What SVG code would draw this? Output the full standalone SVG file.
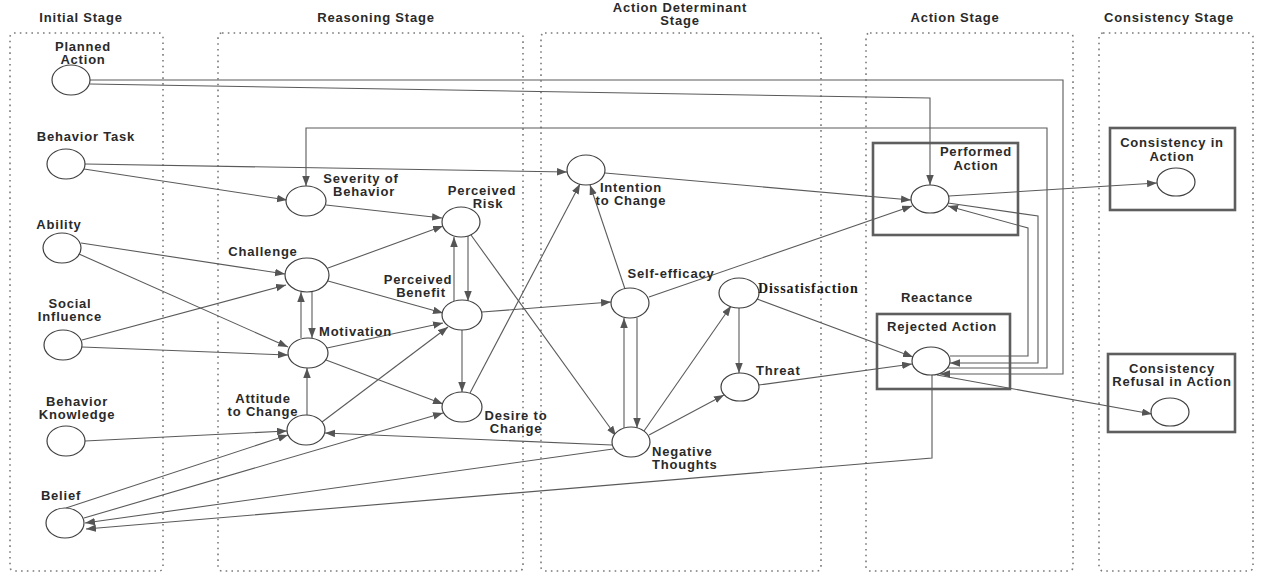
<svg xmlns="http://www.w3.org/2000/svg" width="1261" height="575" viewBox="0 0 1261 575">
<defs>
<marker id="ah" markerUnits="userSpaceOnUse" markerWidth="11" markerHeight="8" refX="10" refY="3.75" orient="auto">
<path d="M0,0 L10,3.75 L0,7.5 z" fill="#555"/>
</marker>
<style>
.stage{fill:none;stroke:#7a7a7a;stroke-width:1.6;stroke-dasharray:1.6 4.2}
.box{fill:none;stroke:#5e5e5e;stroke-width:2.6}
.nd{fill:#fff;stroke:#404040;stroke-width:1.2}
.t{font-family:"Liberation Sans",Arial,sans-serif;font-weight:bold;font-size:13px;fill:#2a2a2a;letter-spacing:0.8px}
.c{text-anchor:middle}
.s{font-family:"Liberation Serif","Times New Roman",serif;font-weight:bold;font-size:14px;fill:#1a1a1a;letter-spacing:0.9px}
.e{fill:none;stroke:#5a5a5a;stroke-width:1.1;marker-end:url(#ah)}
</style>
</defs>
<rect width="1261" height="575" fill="#fff"/>

<g id="stages">
<rect class="stage" x="10" y="33" width="153" height="538" rx="4"/>
<rect class="stage" x="218" y="33" width="305" height="538" rx="4"/>
<rect class="stage" x="541" y="33" width="280" height="538" rx="4"/>
<rect class="stage" x="866" y="33" width="207" height="538" rx="4"/>
<rect class="stage" x="1099" y="33" width="154" height="538" rx="4"/>
<text class="t c" x="81" y="22">Initial Stage</text>
<text class="t c" x="376" y="22">Reasoning Stage</text>
<text class="t c" x="680" y="12">Action Determinant</text>
<text class="t c" x="680" y="25">Stage</text>
<text class="t c" x="955" y="22">Action Stage</text>
<text class="t c" x="1169" y="22">Consistency Stage</text>
</g>

<g id="boxes">
<rect class="box" x="873" y="143" width="145" height="92"/>
<rect class="box" x="877" y="314" width="133" height="75"/>
<rect class="box" x="1110" y="128" width="125" height="82"/>
<rect class="box" x="1108" y="354" width="127" height="78"/>
<text class="t c" x="937" y="302">Reactance</text>
</g>

<g id="connectors">
<path class="e" d="M90,80 H1063 V374 H940"/>
<path class="e" d="M90,84 L930,98 V185"/>
<path class="e" d="M948,368 H1047 V128 H306 V186"/>
<path class="e" d="M948,203 L1038,216 V363 H950"/>
<path class="e" d="M950,356 H1028 V228 L948,206"/>
<path class="e" d="M85,164 L567,172"/>
<path class="e" d="M84,169 L287,200"/>
<path class="e" d="M326,205 L442,218"/>
<path class="e" d="M81,243 L285,274"/>
<path class="e" d="M79,254 L288,347"/>
<path class="e" d="M82,340 L286,285"/>
<path class="e" d="M82,347 L288,355"/>
<path class="e" d="M85,441 L287,431"/>
<path class="e" d="M66,508 L288,435"/>
<path class="e" d="M301,338 V292"/>
<path class="e" d="M312,291 V338"/>
<path class="e" d="M307,415 V368"/>
<path class="e" d="M328,268 L443,226"/>
<path class="e" d="M328,281 L443,313"/>
<path class="e" d="M327,348 L443,323"/>
<path class="e" d="M326,360 L443,404"/>
<path class="e" d="M322,422 L448,327"/>
<path class="e" d="M84,518 L443,413"/>
<path class="e" d="M612,445 L325,433"/>
<path class="e" d="M613,449 L85,523"/>
<path class="e" d="M932,375 V458 L86,529"/>
<path class="e" d="M454,301 V237"/>
<path class="e" d="M468,236 V301"/>
<path class="e" d="M462,330 V392"/>
<path class="e" d="M471,235 L616,436"/>
<path class="e" d="M470,393 L580,184"/>
<path class="e" d="M482,312 L611,302"/>
<path class="e" d="M625,289 L590,185"/>
<path class="e" d="M605,173 L911,200"/>
<path class="e" d="M649,297 L912,206"/>
<path class="e" d="M624,428 V318"/>
<path class="e" d="M637,318 V428"/>
<path class="e" d="M644,431 L731,306"/>
<path class="e" d="M649,435 L724,395"/>
<path class="e" d="M739,308 V373"/>
<path class="e" d="M757,299 L913,357"/>
<path class="e" d="M759,385 L912,364"/>
<path class="e" d="M949,196 L1157,183"/>
<path class="e" d="M937,375 L1152,414"/>
</g>

<g id="n-planned-action"><ellipse class="nd" cx="71" cy="80" rx="19" ry="15"/><text class="t c" x="83" y="51">Planned</text><text class="t c" x="83" y="64">Action</text></g>
<g id="n-behavior-task"><ellipse class="nd" cx="66" cy="164" rx="19" ry="15"/><text class="t c" x="86" y="141">Behavior Task</text></g>
<g id="n-ability"><ellipse class="nd" cx="62" cy="248" rx="19" ry="15"/><text class="t c" x="59" y="229">Ability</text></g>
<g id="n-social-influence"><ellipse class="nd" cx="63" cy="345" rx="19" ry="15"/><text class="t c" x="70" y="308">Social</text><text class="t c" x="70" y="321">Influence</text></g>
<g id="n-behavior-knowledge"><ellipse class="nd" cx="66" cy="441" rx="19" ry="15"/><text class="t c" x="77" y="406">Behavior</text><text class="t c" x="77" y="419">Knowledge</text></g>
<g id="n-belief"><ellipse class="nd" cx="65" cy="523" rx="19" ry="15"/><text class="t c" x="61" y="500">Belief</text></g>

<g id="n-severity"><ellipse class="nd" cx="306" cy="201" rx="20" ry="15"/><text class="t c" x="361" y="183">Severity of</text><text class="t c" x="364" y="196">Behavior</text></g>
<g id="n-perceived-risk"><ellipse class="nd" cx="461" cy="222" rx="19" ry="15"/><text class="t c" x="482" y="195">Perceived</text><text class="t c" x="488" y="208">Risk</text></g>
<g id="n-challenge"><ellipse class="nd" cx="307" cy="275" rx="22" ry="17"/><text class="t c" x="263" y="256">Challenge</text></g>
<g id="n-motivation"><ellipse class="nd" cx="308" cy="353" rx="20" ry="15"/><text class="t" x="319" y="336">Motivation</text></g>
<g id="n-attitude"><ellipse class="nd" cx="306" cy="430" rx="19" ry="15"/><text class="t c" x="263" y="403">Attitude</text><text class="t c" x="263" y="416">to Change</text></g>
<g id="n-perceived-benefit"><ellipse class="nd" cx="462" cy="315" rx="20" ry="15"/><text class="t c" x="418" y="284">Perceived</text><text class="t c" x="421" y="297">Benefit</text></g>
<g id="n-desire"><ellipse class="nd" cx="462" cy="407" rx="20" ry="15"/><text class="t c" x="516" y="420">Desire to</text><text class="t c" x="516" y="433">Change</text></g>

<g id="n-intention"><ellipse class="nd" cx="586" cy="170" rx="19" ry="15"/><text class="t c" x="631" y="192">Intention</text><text class="t c" x="631" y="205">to Change</text></g>
<g id="n-self-efficacy"><ellipse class="nd" cx="630" cy="303" rx="19" ry="15"/><text class="t c" x="671" y="278">Self-efficacy</text></g>
<g id="n-negative-thoughts"><ellipse class="nd" cx="631" cy="442" rx="19" ry="15"/><text class="t" x="652" y="456">Negative</text><text class="t" x="652" y="469">Thoughts</text></g>
<g id="n-dissatisfaction"><ellipse class="nd" cx="739" cy="293" rx="20" ry="15"/><text class="s" x="758" y="293">Dissatisfaction</text></g>
<g id="n-threat"><ellipse class="nd" cx="740" cy="387" rx="19" ry="14"/><text class="t" x="756" y="375">Threat</text></g>

<g id="n-performed-action"><ellipse class="nd" cx="930" cy="199" rx="19" ry="14"/><text class="t c" x="976" y="156">Performed</text><text class="t c" x="976" y="170">Action</text></g>
<g id="n-rejected-action"><ellipse class="nd" cx="931" cy="361" rx="19" ry="14"/><text class="t c" x="942" y="331">Rejected Action</text></g>

<g id="n-consistency-in-action"><ellipse class="nd" cx="1176" cy="182" rx="19" ry="14"/><text class="t c" x="1172" y="147">Consistency in</text><text class="t c" x="1172" y="161">Action</text></g>
<g id="n-consistency-refusal"><ellipse class="nd" cx="1170" cy="412" rx="19" ry="14"/><text class="t c" x="1172" y="373">Consistency</text><text class="t c" x="1172" y="386">Refusal in Action</text></g>
</svg>
